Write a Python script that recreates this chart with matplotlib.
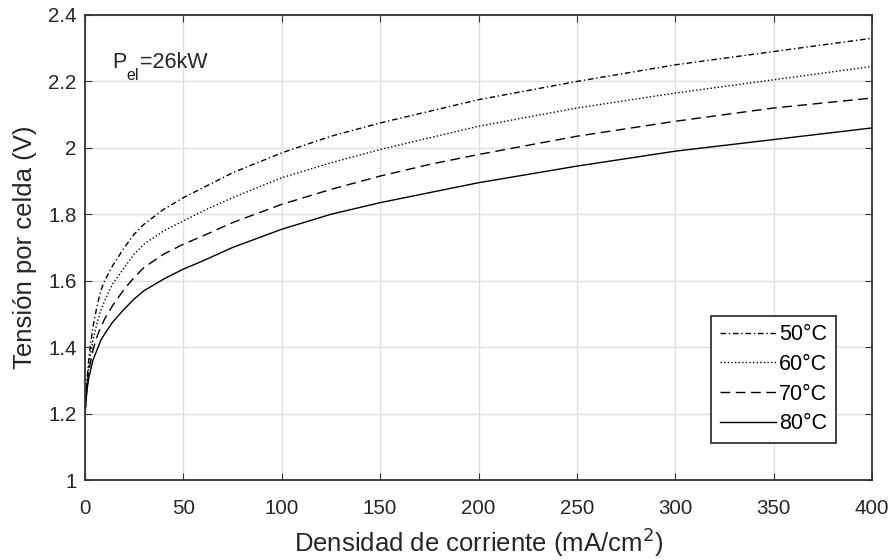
import matplotlib
matplotlib.use("Agg")
import matplotlib.pyplot as plt

plt.rcParams['font.family'] = ['Liberation Sans', 'DejaVu Sans']

x = [0, 1, 2, 4, 6, 8, 10, 14, 20, 25, 30, 40, 50, 60, 75, 100, 125, 150, 175, 200, 250, 300, 350, 400]
v50 = [1.20, 1.30, 1.37, 1.46, 1.52, 1.57, 1.60, 1.645, 1.70, 1.74, 1.77, 1.815, 1.85, 1.88, 1.925,
       1.985, 2.035, 2.075, 2.11, 2.145, 2.20, 2.25, 2.29, 2.33]
v60 = [1.20, 1.29, 1.35, 1.42, 1.47, 1.51, 1.54, 1.59, 1.64, 1.68, 1.71, 1.75, 1.78, 1.81, 1.85,
       1.91, 1.955, 1.995, 2.03, 2.065, 2.12, 2.165, 2.205, 2.245]
v70 = [1.20, 1.28, 1.33, 1.39, 1.43, 1.46, 1.485, 1.525, 1.575, 1.61, 1.64, 1.68, 1.71, 1.735, 1.775,
       1.83, 1.875, 1.915, 1.95, 1.98, 2.035, 2.08, 2.12, 2.15]
v80 = [1.20, 1.27, 1.31, 1.36, 1.39, 1.42, 1.44, 1.475, 1.515, 1.545, 1.57, 1.605, 1.635, 1.66, 1.70,
       1.755, 1.80, 1.835, 1.865, 1.895, 1.945, 1.99, 2.025, 2.06]
labels = ['50°C', '60°C', '70°C', '80°C']
xticks = [0, 50, 100, 150, 200, 250, 300, 350, 400]
yticks = [1, 1.2, 1.4, 1.6, 1.8, 2, 2.2, 2.4]
ytick_labels = ['1', '1.2', '1.4', '1.6', '1.8', '2', '2.2', '2.4']

fig = plt.figure(figsize=(8.94, 5.60), dpi=100)
ax = fig.add_axes([85 / 894, 80 / 560, 787 / 894, 465 / 560])

styles = [(0, (4, 2, 1, 2)), (0, (1, 1.6)), (0, (7, 4)), '-']
for vals, lab, ls in zip([v50, v60, v70, v80], labels, styles):
    ax.plot(x, vals, color='black', lw=1.0, linestyle=ls, label=lab)

ax.set_xlim(0, 400)
ax.set_ylim(1, 2.4)
ax.set_xticks(xticks)
ax.set_yticks(yticks)
ax.set_yticklabels(ytick_labels)
ax.grid(True, color='#e0e0e0', lw=1.0)
ax.set_axisbelow(True)
ax.tick_params(direction='in', top=True, right=True, labelsize=14.8, length=5,
               color='#333333', labelcolor='#262626')
ax.tick_params(axis='y', pad=6)
ax.tick_params(axis='x', pad=14)
for s in ax.spines.values():
    s.set_color('#333333')
    s.set_linewidth(1.3)

ax.set_xlabel('Densidad de corriente (mA/cm$^2$)', fontsize=18.5, color='#262626', labelpad=5)
ax.set_ylabel('Tensión por celda (V)', fontsize=18.5, color='#262626', labelpad=8)

ax.text(13.7, 2.2404, 'P', fontsize=15.5, color='#262626', va='baseline')
ax.text(20.8, 2.204, 'el', fontsize=11.5, color='#262626', va='baseline')
ax.text(27.9, 2.2404, '=26kW', fontsize=15.5, color='#262626', va='baseline')

leg = ax.legend(loc='lower right', bbox_to_anchor=(0.954, 0.080), borderaxespad=0, fontsize=15.5,
                handlelength=2.6, handletextpad=0.15, borderpad=0.4,
                labelspacing=0.4, fancybox=False, framealpha=1, edgecolor='#333333')
leg.get_frame().set_linewidth(1.3)

fig.savefig('out.png', dpi=100)
